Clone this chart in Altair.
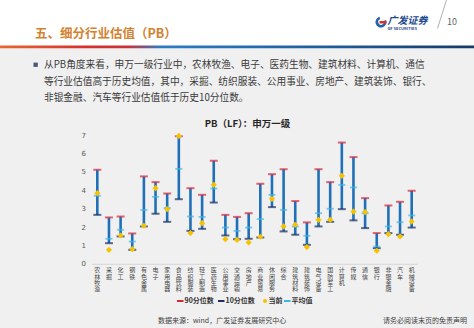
import altair as alt
import pandas as pd

# ---------------- data ----------------
industries = ["农林牧渔", "采掘", "化工", "钢铁", "有色金属", "电子", "家用电器", "食品饮料",
              "纺织服装", "轻工制造", "医药生物", "公用事业", "交通运输", "房地产", "商业贸易",
              "休闲服务", "综合", "建筑材料", "建筑装饰", "电气设备", "国防军工", "计算机",
              "传媒", "通信", "银行", "非银金融", "汽车", "机械设备"]
p90 = [5.11, 2.52, 2.57, 1.65, 4.75, 4.44, 3.82, 6.93, 4.11, 3.75, 5.60, 2.66, 2.55, 2.75,
       4.35, 4.87, 5.14, 3.41, 2.25, 5.14, 4.44, 6.59, 5.80, 3.57, 1.67, 3.17, 3.37, 3.97]
p10 = [2.66, 1.12, 1.49, 0.76, 2.03, 2.72, 2.28, 3.51, 1.79, 1.90, 3.33, 1.54, 1.34, 1.36,
       1.43, 3.08, 1.76, 1.58, 1.03, 2.03, 2.28, 2.97, 2.36, 1.94, 0.85, 1.67, 1.58, 1.97]
mean_v = [3.70, 1.36, 1.85, 1.21, 2.92, 3.64, 3.03, 5.16, 2.57, 2.55, 4.09, 1.97, 1.79, 1.97,
          2.43, 3.75, 2.93, 2.03, 1.52, 2.75, 2.99, 4.29, 4.15, 2.75, 0.94, 2.03, 2.26, 2.63]
current = [3.84, 0.76, 1.54, 0.80, 2.07, 4.11, 2.97, 6.95, 1.67, 2.21, 4.29, 1.34, 1.30, 1.16,
           1.47, 3.53, 2.03, 2.12, 0.91, 2.39, 2.39, 4.78, 2.84, 2.81, 0.71, 1.61, 1.49, 2.30]
y_ticks = [0, 1, 2, 3, 4, 5, 6, 7]

slide_title = "五、细分行业估值（PB）"
body_lines = ["从PB角度来看，申万一级行业中，农林牧渔、电子、医药生物、建筑材料、计算机、通信",
              "等行业估值高于历史均值，其中，采掘、纺织服装、公用事业、房地产、建筑装饰、银行、",
              "非银金融、汽车等行业估值低于历史10分位数。"]
chart_title = "PB（LF）：申万一级"
legend_labels = ["90分位数", "10分位数", "当前", "平均值"]
source_text = "数据来源：wind，广发证券发展研究中心"
disclaimer = "请务必阅读末页的免责声明"
page_no = "10"
logo_cn = "广发证券"
logo_en = "GF SECURITIES"

df = pd.DataFrame({"ind": industries, "p90": p90, "p10": p10, "mean": mean_v, "cur": current})
one = pd.DataFrame({"d": [0]})

# ---------------- layout ----------------
W, H = 474, 328
OX, OY = 91.5, 135.0          # plot origin on the page
PW, PH = 326.0, 128.8         # plot size
FONT = "Noto Sans CJK SC"

C_BAR = "#1f70b8"
C_90 = "#d4283a"
C_10 = "#1b2d63"
C_MEAN = "#3db5ea"
C_CUR = "#f5c200"


def px(x):
    return alt.value(x - OX)


def py(y):
    return alt.value(y - OY)


def text(t, x, y, size, color="#404040", align="left", bold=False, italic=False):
    return alt.Chart(one).mark_text(
        text=t, align=align, baseline="middle", fontSize=size, font=FONT, color=color,
        fontWeight="bold" if bold else "normal", fontStyle="italic" if italic else "normal"
    ).encode(x=px(x), y=py(y))


def rect(x1, x2, y1, y2, color):
    return alt.Chart(one).mark_rect(color=color).encode(x=px(x1), x2=px(x2), y=py(y1), y2=py(y2))


def hline(x1, x2, y, color, w=2):
    return alt.Chart(one).mark_rule(color=color, strokeWidth=w).encode(
        x=px(x1), x2=px(x2), y=py(y))


# backgrounds
bg = rect(0, W, 48, H, "#f0f0f0")
grad = alt.Chart(one).mark_rect(
    color=alt.Gradient(gradient="linear", x1=0, x2=1, y1=0, y2=0, stops=[
        alt.GradientStop(color="#e8662e", offset=0.0),
        alt.GradientStop(color="#d8302c", offset=0.18),
        alt.GradientStop(color="#c8323a", offset=0.27),
        alt.GradientStop(color="#2a7cc2", offset=0.34),
        alt.GradientStop(color="#1f5c9c", offset=0.7),
        alt.GradientStop(color="#173a68", offset=1.0),
    ])
).encode(x=px(0), x2=px(W), y=py(45.5), y2=py(48.2))

# header
title_t = text(slide_title, 35, 34, 12.5, color="#d4822f", bold=True)
diag = alt.Chart(one).mark_rule(color="#9a9a9a", strokeWidth=0.8).encode(
    x=px(446.5), x2=px(437.5), y=py(0), y2=py(28.5))
page_t = text(page_no, 447, 21.5, 9, color="#666666")
logo_ring = alt.Chart(one).mark_arc(color="#1f63b0").encode(
    x=px(381), y=py(22), radius=alt.value(5.5), radius2=alt.value(2.8),
    theta=alt.value(1.2), theta2=alt.value(6.0))
logo_red = rect(379.5, 386.5, 21, 23.5, "#d8302c")
logo_cn_t = text(logo_cn, 387.5, 20.5, 10, color="#1c4a8c", bold=True, italic=True)
logo_en_t = text(logo_en, 387.5, 28.8, 4, color="#1c4a8c", bold=True)

# body text
bullet = rect(33.5, 37.8, 62.6, 66.9, "#4a5878")
body = [text(t, 44, y, 9.7, color="#3a3a3a") for t, y in zip(body_lines, [65, 81.5, 97.5])]

# chart title
ctitle = text(chart_title, 247.5, 124, 9.5, color="#262626", align="center", bold=True)

# ---------------- data marks ----------------
xaxis = alt.Axis(labelExpr="split(datum.label, '')", labelAngle=0, labelFontSize=6,
                 labelFont=FONT, labelColor="#444444", labelLineHeight=6.4,
                 labelBaseline="top", labelPadding=3, ticks=False, zindex=1,
                 domainColor="#d0d0d0", domainWidth=0.8, labelOverlap=False)
xscale = alt.Scale(paddingInner=0, paddingOuter=0)
yscale = alt.Scale(domain=[0, 7], nice=False)
yaxis = alt.Axis(values=y_ticks, grid=False, ticks=False, domain=False, labelFontSize=7,
                 labelFont="DejaVu Sans", labelColor="#595959", labelPadding=6, zindex=1,
                 labelOverlap=False, labelFlush=False)


def X():
    return alt.X("ind:N", sort=industries, title=None, scale=xscale, axis=xaxis)


def Y(field):
    return alt.Y(field, scale=yscale, axis=yaxis, title=None)


base = alt.Chart(df)
bars = base.mark_rule(color=C_BAR, strokeWidth=2.6).encode(x=X(), y=Y("p10:Q"), y2="p90:Q")
cap90 = base.mark_tick(color=C_90, thickness=2, size=8, orient="horizontal").encode(
    x=X(), y=Y("p90:Q"))
cap10 = base.mark_tick(color=C_10, thickness=2, size=8, orient="horizontal").encode(
    x=X(), y=Y("p10:Q"))
curm = base.mark_point(shape="diamond", filled=True, size=38, color=C_CUR, opacity=1).encode(
    x=X(), y=Y("cur:Q"))
meanm = base.mark_tick(color=C_MEAN, thickness=1.8, size=7, orient="horizontal").encode(
    x=X(), y=Y("mean:Q"))

# ---------------- legend ----------------
ly = 301
leg = [
    hline(177, 183.5, ly, C_90), text(legend_labels[0], 184.5, ly, 7, color="#333333", bold=True),
    hline(218, 224.5, ly, C_10), text(legend_labels[1], 225.5, ly, 7, color="#333333", bold=True),
    alt.Chart(one).mark_point(shape="circle", filled=True, size=16, color=C_CUR, opacity=1)
       .encode(x=px(265), y=py(ly)),
    text(legend_labels[2], 268.5, ly, 7, color="#333333", bold=True),
    hline(284, 290.5, ly, C_MEAN), text(legend_labels[3], 291.5, ly, 7, color="#333333", bold=True),
]

# footer
foot1 = text(source_text, 158, 321, 7, color="#404040")
foot2 = text(disclaimer, 467, 321, 7, color="#404040", align="right")

chart = alt.layer(
    bg, grad, title_t, diag, page_t, logo_ring, logo_red, logo_cn_t, logo_en_t,
    bullet, *body, ctitle,
    bars, cap90, cap10, meanm, curm,
    *leg, foot1, foot2
).properties(
    width=PW, height=PH,
    autosize=alt.AutoSizeParams(type="none"),
    padding={"left": OX, "top": OY, "right": W - OX - PW, "bottom": H - OY - PH},
    background="#ffffff"
).configure_view(stroke=None)

chart.save("out.html", embed_options={"renderer": "svg", "actions": False})
